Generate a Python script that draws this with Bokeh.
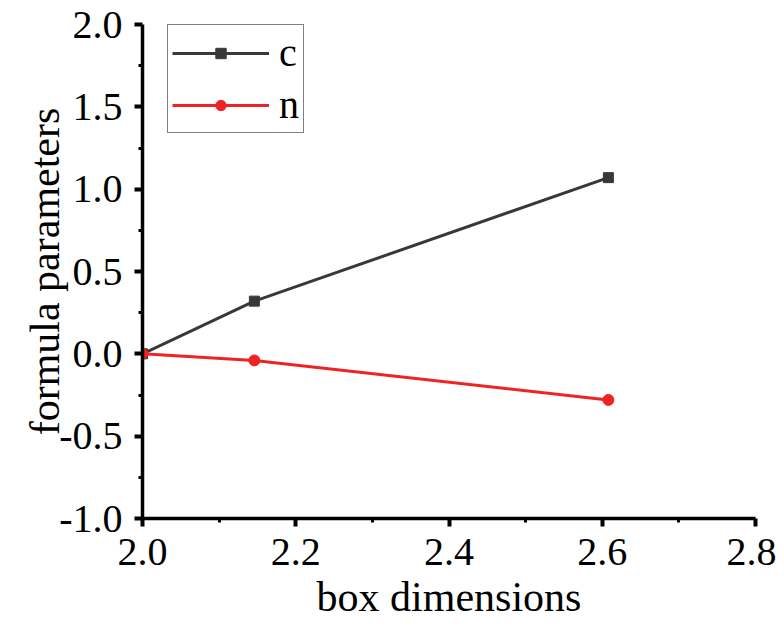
from bokeh.plotting import figure
from bokeh.models import (FixedTicker, NumeralTickFormatter, Legend, LegendItem, Range1d)
from bokeh.embed import file_html
from bokeh.resources import INLINE

x_vals = [2.0, 2.146, 2.608]
c_vals = [0.0, 0.32, 1.07]
n_vals = [0.0, -0.04, -0.28]
x_ticks = [2.0, 2.2, 2.4, 2.6, 2.8]
x_minor = [2.1, 2.3, 2.5, 2.7]
y_ticks = [-1.0, -0.5, 0.0, 0.5, 1.0, 1.5, 2.0]
y_minor = [-0.75, -0.25, 0.25, 0.75, 1.25, 1.75]

FONT = "Liberation Serif"

p = figure(width=776, height=622, output_backend="svg", toolbar_location=None,
           x_range=Range1d(2.0, 2.8), y_range=Range1d(-1.0, 2.0),
           min_border_left=142, min_border_right=21, min_border_top=24, min_border_bottom=102)
p.outline_line_color = None
p.xgrid.visible = False
p.ygrid.visible = False
p.background_fill_color = "white"
p.border_fill_color = "white"

cl = p.line(x_vals, c_vals, line_color="#383838", line_width=3)
cs = p.scatter(x_vals, c_vals, marker="square", size=10, fill_color="#383838", line_color="#383838")
nl = p.line(x_vals, n_vals, line_color="#ee2424", line_width=3)
ns = p.scatter(x_vals, n_vals, marker="circle", size=11, fill_color="#ee2424", line_color="#ee2424")

for ax, t, m in ((p.xaxis[0], x_ticks, x_minor), (p.yaxis[0], y_ticks, y_minor)):
    ax.ticker = FixedTicker(ticks=t, minor_ticks=m)
    ax.formatter = NumeralTickFormatter(format="0.0")
    ax.axis_line_width = 3.5
    ax.axis_line_color = "black"
    ax.major_tick_line_width = 4
    ax.minor_tick_line_width = 3
    ax.major_tick_out = 8
    ax.major_tick_in = 0
    ax.minor_tick_out = 4
    ax.minor_tick_in = 0
    ax.major_label_text_font = FONT
    ax.major_label_text_font_size = "40px"
    ax.major_label_text_color = "black"
    ax.axis_label_text_font = FONT
    ax.axis_label_text_font_size = "42px"
    ax.axis_label_text_font_style = "normal"
    ax.axis_label_text_color = "black"
    ax.major_label_standoff = 12

p.xaxis.axis_label = "box dimensions"
p.yaxis.axis_label = "formula parameters"
p.xaxis.axis_label_standoff = 6
p.yaxis.axis_label_standoff = -12

legend = Legend(items=[LegendItem(label="c", renderers=[cl, cs]),
                       LegendItem(label="n", renderers=[nl, ns])],
                location=(25, 385))
legend.margin = 0
legend.border_line_color = "black"
legend.border_line_width = 1
legend.background_fill_alpha = 1
legend.label_text_font = FONT
legend.label_text_font_size = "40px"
legend.label_text_color = "black"
legend.glyph_width = 97
legend.glyph_height = 26
legend.label_height = 46
legend.spacing = 5
legend.padding = 4
legend.label_standoff = 10
p.add_layout(legend)

open("out.html", "w").write(file_html(p, INLINE))
